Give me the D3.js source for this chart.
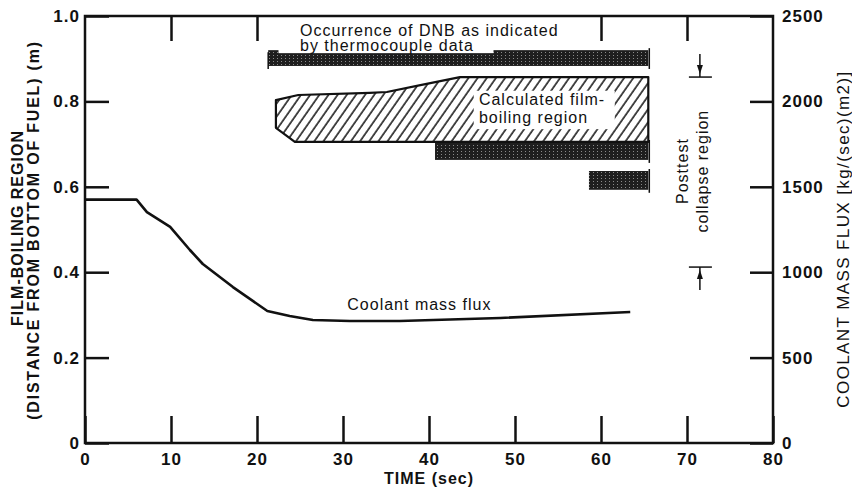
<html>
<head>
<script src="https://d3js.org/d3.v7.min.js"></script>
<style>
    body { margin: 0; background: #fff; }
    text { font-family: "Liberation Sans", Arial, sans-serif; fill: #111; }
    .tick text { font-size: 17px; font-weight: bold; letter-spacing: 1px; }
    .tick line { stroke: #111; stroke-width: 2.5; }
    .title { font-size: 16px; font-weight: bold; letter-spacing: 1px; }
    .note { font-size: 16px; letter-spacing: 1px; }
</style>
</head>
<body>
<svg width=852 height=495></svg>
<script>

// axis ticks
var timeTicks = [0, 10, 20, 30, 40, 50, 60, 70, 80];
var topTimeTicks = [10, 20, 60, 70];   // the others sit under the DNB label
var heightTicks = [0, 0.2, 0.4, 0.6, 0.8, 1.0];
var fluxTicks = [0, 500, 1000, 1500, 2000, 2500];

// coolant mass flux, kg/(sec)(m2), right axis
var fluxTime  = [0, 6, 7.2, 9.9, 12.2, 13.7, 17.2, 21.2, 23.8, 26.5, 30.8, 36.6, 48.3, 63.4];
var fluxValue = [1425, 1425, 1352, 1265, 1130, 1048, 913, 773, 744, 720, 714, 714, 732, 767];

// calculated film-boiling region outline (time, height m)
var hatchTime   = [22.2, 24.8, 33.1, 35.1, 39.0, 43.6, 65.5, 65.5, 24.4, 22.2];
var hatchHeight = [0.803, 0.815, 0.820, 0.822, 0.838, 0.857, 0.857, 0.705, 0.705, 0.738];

// DNB from thermocouple data
var dnbStart = [21.3, 40.7, 58.6];
var dnbEnd   = [65.5, 65.5, 65.5];
var dnbLow   = [0.883, 0.663, 0.593];
var dnbHigh  = [0.920, 0.705, 0.637];

// posttest collapse region
var collapseTime = 71.5;
var collapseLow = 0.412;
var collapseHigh = 0.857;

var mLeft = 85, mTop = 16, width = 688, height = 427;
var svg = d3.select("svg");

var x = d3.scaleLinear().domain([0, 80]).range([mLeft, mLeft + width]);
var y = d3.scaleLinear().domain([0, 1]).range([mTop + height, mTop]);
var y2 = d3.scaleLinear().domain([0, 2500]).range([mTop + height, mTop]);

var defs = svg.append("defs");
var hatch = defs.append("pattern").attr("id", "hatch")
    .attr("patternUnits", "userSpaceOnUse")
    .attr("width", 7.5).attr("height", 10)
    .attr("patternTransform", "rotate(35)");
hatch.append("line").attr("x1", 1).attr("y1", 0).attr("x2", 1).attr("y2", 10)
    .attr("stroke", "#111").attr("stroke-width", 1.5);

var dots = defs.append("pattern").attr("id", "dots")
    .attr("patternUnits", "userSpaceOnUse")
    .attr("width", 4).attr("height", 3);
dots.append("rect").attr("width", 4).attr("height", 3).attr("fill", "#1e1e1e");
dots.append("rect").attr("x", 1).attr("y", 1).attr("width", 1).attr("height", 1).attr("fill", "#8a8a8a");

// DNB bars
var bars = d3.range(dnbStart.length);
svg.selectAll(".dnb").data(bars).enter().append("rect")
    .attr("class", "dnb")
    .attr("x", function(i) { return x(dnbStart[i]); })
    .attr("width", function(i) { return x(dnbEnd[i]) - x(dnbStart[i]); })
    .attr("y", function(i) { return y(dnbHigh[i]); })
    .attr("height", function(i) { return y(dnbLow[i]) - y(dnbHigh[i]); })
    .attr("fill", "url(#dots)");
svg.selectAll(".cap").data(bars).enter().append("line")
    .attr("x1", function(i) { return x(dnbEnd[i]) + 1; })
    .attr("x2", function(i) { return x(dnbEnd[i]) + 1; })
    .attr("y1", function(i) { return y(dnbHigh[i]) - 2; })
    .attr("y2", function(i) { return y(dnbLow[i]) + 3; })
    .attr("stroke", "#111").attr("stroke-width", 1.5);
svg.append("line")
    .attr("x1", x(dnbStart[0])).attr("x2", x(dnbStart[0]))
    .attr("y1", y(dnbHigh[0]) + 2).attr("y2", y(dnbLow[0]) + 3)
    .attr("stroke", "#111").attr("stroke-width", 1.5);

// film boiling region
var hatchPts = hatchTime.map(function(t, i) { return [x(t), y(hatchHeight[i])]; });
svg.append("path")
    .attr("d", d3.line()(hatchPts) + "Z")
    .attr("fill", "url(#hatch)")
    .attr("stroke", "#111").attr("stroke-width", 2.2)
    .attr("stroke-linejoin", "round");

// coolant mass flux line
svg.append("path")
    .datum(fluxTime.map(function(t, i) { return [x(t), y2(fluxValue[i])]; }))
    .attr("d", d3.line())
    .attr("fill", "none")
    .attr("stroke", "#111").attr("stroke-width", 2.6)
    .attr("stroke-linejoin", "round");

// axes
svg.append("g").attr("transform", "translate(0," + (mTop + height) + ")")
    .call(d3.axisBottom(x).tickValues(timeTicks).tickSize(-27).tickPadding(10).tickFormat(d3.format("d")));
svg.append("g").attr("transform", "translate(0," + mTop + ")")
    .call(d3.axisTop(x).tickValues(topTimeTicks).tickSize(-25).tickFormat(""));
svg.append("g").attr("transform", "translate(" + mLeft + ",0)")
    .call(d3.axisLeft(y).tickValues(heightTicks).tickSize(-24).tickPadding(5)
        .tickFormat(function(d) { return d == 0 ? "0" : d3.format(".1f")(d); }));
svg.append("g").attr("transform", "translate(" + (mLeft + width) + ",0)")
    .call(d3.axisRight(y2).tickValues(fluxTicks).tickSize(-23).tickPadding(9).tickFormat(d3.format("d")));
svg.selectAll(".domain").remove();
svg.selectAll("g text").attr("font-family", null).attr("font-size", null).attr("fill", "#111");

svg.append("rect")
    .attr("x", mLeft).attr("y", mTop).attr("width", width).attr("height", height)
    .attr("fill", "none").attr("stroke", "#111").attr("stroke-width", 2.5);

// DNB label with white backing (it bites into the top of the bar)
svg.append("rect")
    .attr("x", x(22.5)).attr("y", mTop + 3).attr("width", x(47.5) - x(22.5)).attr("height", y(0.913) - mTop - 3)
    .attr("fill", "#fff");
var dnbLabel = svg.append("text").attr("class", "note").attr("x", x(25)).attr("y", y(0.953));
dnbLabel.append("tspan").text("Occurrence of DNB as indicated");
dnbLabel.append("tspan").attr("x", x(25)).attr("dy", 14.5).text("by thermocouple data");

// calculated film-boiling label
svg.append("rect")
    .attr("x", x(45.2)).attr("y", y(0.825)).attr("width", x(61.6) - x(45.2)).attr("height", y(0.735) - y(0.825))
    .attr("fill", "#fff");
var calcLabel = svg.append("text").attr("class", "note").attr("x", x(45.8)).attr("y", y(0.792));
calcLabel.append("tspan").text("Calculated film-");
calcLabel.append("tspan").attr("x", x(45.8)).attr("dy", 18).text("boiling region");

svg.append("text").attr("class", "note")
    .attr("x", x(30.5)).attr("y", y2(780))
    .text("Coolant mass flux");

// posttest collapse region markers
var cx = x(collapseTime);
[[collapseHigh, -1], [collapseLow, 1]].forEach(function(m) {
    var yy = y(m[0]);
    svg.append("line").attr("x1", cx - 11).attr("x2", cx + 12).attr("y1", yy).attr("y2", yy)
        .attr("stroke", "#111").attr("stroke-width", 1.5);
    svg.append("line").attr("x1", cx).attr("x2", cx).attr("y1", yy).attr("y2", yy + m[1] * 23)
        .attr("stroke", "#111").attr("stroke-width", 1.5);
    svg.append("path")
        .attr("d", "M" + cx + "," + (yy + m[1] * 3) + "L" + (cx - 3) + "," + (yy + m[1] * 12) + "L" + (cx + 3) + "," + (yy + m[1] * 12) + "Z")
        .attr("fill", "#111");
});
var midY = (y(collapseHigh) + y(collapseLow)) / 2 - 1;
svg.append("text").attr("class", "note")
    .attr("transform", "translate(" + (cx - 12) + "," + midY + ") rotate(-90)")
    .attr("text-anchor", "middle").text("Posttest");
svg.append("text").attr("class", "note")
    .attr("transform", "translate(" + (cx + 8) + "," + midY + ") rotate(-90)")
    .attr("text-anchor", "middle").text("collapse region");

// axis titles
svg.append("text").attr("class", "title")
    .attr("x", x(40)).attr("y", 484).attr("text-anchor", "middle")
    .text("TIME (sec)");
svg.append("text").attr("class", "title")
    .attr("transform", "translate(23,228) rotate(-90)").attr("text-anchor", "middle")
    .text("FILM-BOILING REGION");
svg.append("text").attr("class", "title").style("letter-spacing", "1.8px")
    .attr("transform", "translate(39,230) rotate(-90)").attr("text-anchor", "middle")
    .text("(DISTANCE FROM BOTTOM OF FUEL) (m)");
svg.append("text").attr("class", "title")
    .style("font-weight", "normal").style("font-size", "17px").style("letter-spacing", "1.4px")
    .attr("transform", "translate(849,239) rotate(-90)").attr("text-anchor", "middle")
    .text("COOLANT MASS FLUX [kg/(sec)(m2)]");

</script>
</body>
</html>
